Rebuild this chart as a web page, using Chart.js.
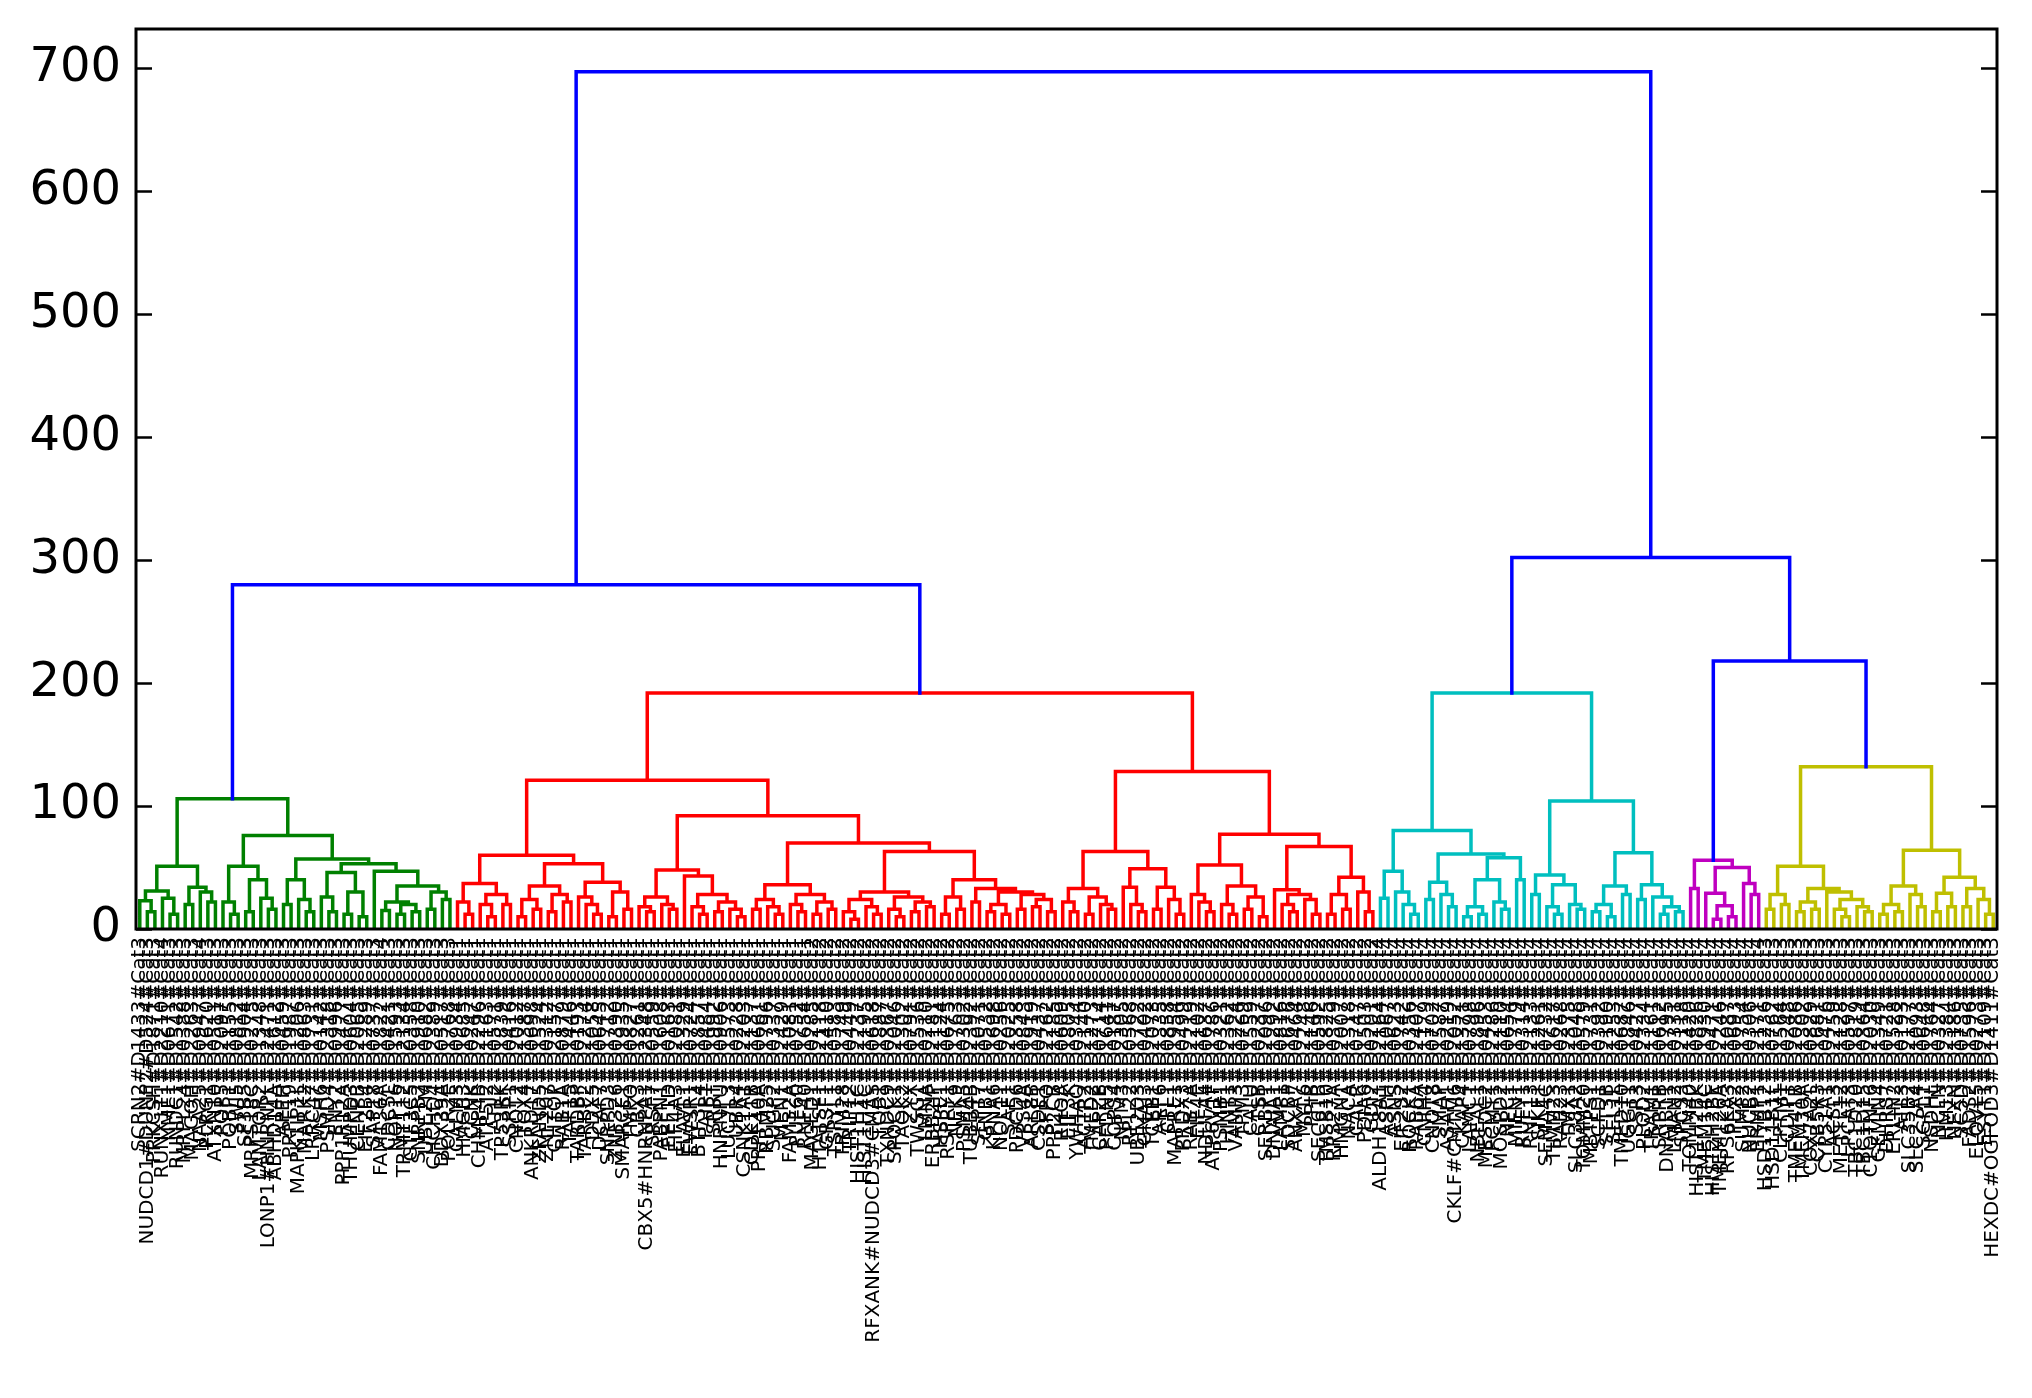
<!DOCTYPE html>
<html lang="en">
<head>
  <meta charset="UTF-8" />
  <title>Dendrogram</title>
  <script src="https://cdn.jsdelivr.net/npm/chart.js"></script>
  <style>
    html, body { margin: 0; padding: 0; background: #fff; }
    #wrap { width: 2032px; height: 1398px; }
  </style>
</head>
<body>
<div id="wrap"><canvas id="dendro" width="2032" height="1398"></canvas></div>
<script>
  // Clusters, written as "(left right height)", a leaf is "."
  const greenTree =
    "((((. (. . 14) 23) (. (. . 12) 25) 31) ((. . 20) (. (. . 22) 30) 34) 51)" +
    " (((. (. . 12) 22) ((. . 14) (. (. . 16) 25) 40) 51)" +
    "  (((. . 20) (. (. . 14) 24) 40)" +
    "   (((. (. . 14) 26) ((. . 12) (. . 10) 30) 46)" +
    "    (. (((. . 15) ((. . 12) (. . 14) 20) 22) ((. . 16) (. . 24) 30) 35) 47) 53) 57) 76) 106)";

  const redTree =
    "(((((. (. . 12) 22) ((. (. . 10) 20) (. . 20) 28) 37)" +
    "   ((((. . 10) (. . 16) 24) ((. . 14) (. . 22) 28) 35) ((. (. (. . 12) 20) 26) ((. . 10) (. . 16) 30) 38) 53) 60)" +
    "  ((((. (. . 14) 18) (. (. . 16) 20) 26) (. ((. (. . 12) 18) ((. . 14) (. (. . 10) 16) 22) 28) 43) 48)" +
    "   ((((. . 16) (. (. . 12) 18) 24) ((. (. . 14) 20) ((. . 12) (. . 16) 22) 28) 36)" +
    "    ((((. (. . 8) 14) (. (. . 12) 18) 24) ((. (. . 10) 16) ((. . 14) (. . 18) 22) 26) 30)" +
    "     (((. . 12) (. . 16) 26) ((. . 22) (((. . 14) (. . 12) 20) ((. . 16) ((. . 18) (. . 14) 24) 28) 30) 33) 40) 63) 70) 92) 121)" +
    " ((((. (. . 14) 22) ((. . 12) (. (. . 16) 20) 26) 33) ((. (. (. . 14) 20) 34) ((. . 16) (. (. . 12) 24) 34) 49) 63)" +
    "  (((. (. (. . 14) 22) 28) ((. (. . 12) 20) ((. . 16) (. . 10) 26) 35) 52)" +
    "   ((. ((. (. . 14) 20) (. (. . 12) 24) 28) 32) (((. . 12) (. . 16) 28) (. (. . 14) 30) 42) 67) 77) 128) 192)";

  const cyanTree =
    "((((. . 25) (. (. (. . 12) 20) 30) 47)" +
    "  (((. . 24) (. (. . 18) 28) 38) ((((. . 10) (. . 12) 18) (. (. . 16) 22) 40) (. . 40) 58) 61) 80)" +
    " (((. . 28) ((. (. . 12) 18) (. (. . 16) 20) 36) 44)" +
    "  ((((. . 14) (. . 10) 20) (. . 28) 35) ((. . 24) (. ((. . 12) (. . 14) 18) 26) 36) 62) 104) 192)";

  const magentaTree = "((. . 33) ((. ((. . 8) (. . 10) 19) 29) (. (. . 28) 37) 50) 56)";

  const yellowTree =
    "((((. . 16) (. . 20) 28) (((. . 14) (. . 16) 22) (. ((. (. . 10) 16) (. (. . 14) 18) 24) 30) 33) 51)" +
    " ((((. . 12) (. . 14) 20) (. (. . 18) 28) 35) (((. . 14) (. . 18) 29) ((. . 18) (. (. . 12) 24) 33) 42) 64) 132)";

  const joinHeights = { greenRed: 280, magentaYellow: 218, cyanRest: 302, root: 697 };

  const fullTree =
    `((${greenTree} ${redTree} ${joinHeights.greenRed})` +
    ` (${cyanTree} (${magentaTree} ${yellowTree} ${joinHeights.magentaYellow}) ${joinHeights.cyanRest}) ${joinHeights.root})`;

  const leafLabels = `
SCRN2#D1433#Cat3 NUDCD1#DUNP2#D524#Cat3 PRKCSH#D1871#Cat3 RUNX1T1#D2210#Cat4 NME1#D0671#Cat3 RUNDC1#D1542#Cat3 MRPL24#D0388#Cat3 MAGOH#D2263#Cat3 NAA25#D0947#Cat4 PLRG1#D1620#Cat3
ATXN10#D0511#Cat3 POP5#D2097#Cat3 PQBP1#D1155#Cat3 SWI5#D0812#Cat3 SF3B5#D1904#Cat3 MRPS18C#D0275#Cat3 LAMTOR2#D1348#Cat3 LONP1#HNRNPL#D2471#Cat3 ABHD14A#D1612#Cat3 APEH#D0459#Cat3
PRPF19#D1987#Cat3 MAPK1IP1L#D1206#Cat3 MARK2#D0863#Cat3 LRRC47#D1731#Cat3 MSH6#D0142#Cat3 PSMD4#D2318#Cat3 ENY2#D0996#Cat3 PPP1R12A#D1477#Cat3 THUMPD3#D0604#Cat3 CENPB#D2065#Cat3
EIF2B4#D1289#Cat3 SAP18#D0737#Cat3 FAM136A#D1822#Cat4 CDC5L#D0421#Cat3 NOP16#D1593#Cat3 TRMT112#D2134#Cat3 GTF3C5#D0358#Cat3 SNRPB2#D1910#Cat3 UBE2M#D0682#Cat3
CHCHD4#D2389#Cat3 DDX39A#D0517#Cat3 POLR2E#D1768#Cat3
CALM3#D0934#Cat1 HMGB3#D1685#Cat1 CCNK#D0247#Cat1 CHMP4B#D2296#Cat1 ATP5J2#D1163#Cat1 ATL2#D0571#Cat1 TP53RK#D1839#Cat1 SSRP1#D0416#Cat1 CNOT2#D2012#Cat1 TOX4#D1387#Cat1
ANKRD17#D0698#Cat1 ZFAND5#D1524#Cat1 ZNF207#D0312#Cat1 CHTOP#D2157#Cat1 RAB1A#D0879#Cat1 TAF15#D1446#Cat1 TARDBP#D0193#Cat1 TARBP2#D2274#Cat1 DDX5#D1058#Cat1 DCAF7#D0645#Cat1
SNRPD3#D1712#Cat1 ZNF326#D0390#Cat1 SMARCE1#D1935#Cat1 TMPO#D0827#Cat1 CBX3#D1261#Cat1 CBX5#HNRNPA1#D2348#Cat1 SRSF7#D0559#Cat1 PABPN1#D1608#Cat1 EEF1D#D0163#Cat1 EIF4A3#D2081#Cat1
ELAVL1#D1329#Cat1 EWSR1#D0724#Cat1 BTF3L4#D1857#Cat1 PAIP1#D0484#Cat1 SRRT#D1992#Cat1 HNRNPU#D0906#Cat1 LUC7L3#D1573#Cat1 UBR4#D0228#Cat1 CSNK1A1#D2203#Cat1 CDK11B#D1137#Cat1
PRPF40A#D0661#Cat1 RBM25#D1796#Cat1 SUGP2#D0337#Cat1 MEN1#D2429#Cat1 FAM32A#D1081#Cat1 PUF60#D0752#Cat1 RNF40#D1654#Cat1 MAGED1#D0285#Cat2 HTATSF1#D2118#Cat2 GRSF1#D1410#Cat2
TSPYL1#D0583#Cat2 TRIM28#D1749#Cat2 TRIP12#D0449#Cat2 HIST1H1C#D2237#Cat2 HIST1H4C#D1195#Cat2 RFXANK#NUDCD3#CMAS#D0618#Cat2 TOB1#D1887#Cat2 TXNDC9#D0367#Cat2 SPOCK1#D2046#Cat2 TAOK2#D1302#Cat2
ZYX#D0791#Cat2 TWSG1#D1536#Cat2 LMNA#D0210#Cat2 ERBB2IP#D2181#Cat2 HSPE1#D1124#Cat2 RSPRY1#D0675#Cat2 NEK9#D1763#Cat2 PSMA5#D0302#Cat2 TUBB4B#D2392#Cat2 SEPT7#D1071#Cat2
GNB1#D0532#Cat2 KPNA6#D1698#Cat2 NOL11#D0256#Cat2 SAE1#D2025#Cat2 PDCD6#D1358#Cat2 VPS4A#D0843#Cat2 ARL8B#D1919#Cat2 CSDE1#D0437#Cat2 SFPQ#D2262#Cat2 PPP2CB#D1185#Cat2
RHOA#D0609#Cat2 EIF3K#D1805#Cat2 YWHAQ#D0344#Cat2 ACTR2#D2140#Cat2 TMED2#D1273#Cat2 CAPZB#D0714#Cat2 PFDN5#D1641#Cat2 COPS4#D0187#Cat2 NPM3#D2305#Cat2
RPL22#D0568#Cat2 UBE2D3#D1722#Cat2 GNAI3#D0402#Cat2 TCEB1#D2073#Cat2 ARF6#D1335#Cat2 CFL1#D0858#Cat2 MAPRE1#D1954#Cat2 PRDX3#D0499#Cat2 RAB7A#D2219#Cat2 EIF4E#D1102#Cat2
NDUFA4#D0637#Cat2 ATP6V1F#D1786#Cat2 PSMB1#D0321#Cat2 HINT1#D2362#Cat2 VAMP3#D1224#Cat2 TPM3#D0769#Cat2 CALU#D1559#Cat2 CTSB#D0237#Cat2 SERBP1#D2096#Cat2 DNAJA1#D1292#Cat2
LAMP1#D0816#Cat2 SDCBP#D1676#Cat2 ANXA7#D0464#Cat2 MYL6#D2248#Cat2 PPIB#D1146#Cat2 SEC61B#D0592#Cat2 TMSB10#D1825#Cat2 RPS27A#D0379#Cat2 HMGN1#D2007#Cat2 NACA#D1318#Cat2
CALR#D0747#Cat2 PDIA6#D1503#Cat2 GDI2#D0201#Cat2
ALDH18A1#D2164#Cat4 ASPH#D1067#Cat4 ASNS#D0623#Cat4 EIF2S2#D1742#Cat4 ROCK1#D0356#Cat4 RAB6A#D2407#Cat4 CNIH4#D1179#Cat4 CNOT8#D0702#Cat4 SMAP#D1587#Cat4 ASAH1#D0219#Cat4
CKLF#CMTM6#D2052#Cat4 CKAP4#D1371#Cat4 LAMC1#D0798#Cat4 NBEAL1#D1896#Cat4 MESDC2#D0453#Cat4 PCMT1#D2286#Cat4 MOSPD2#D1110#Cat4 NPC1#D0654#Cat4 MIEN1#D1779#Cat4 RUFY1#D0314#Cat4
RNF13#D2133#Cat4 SIKE1#D1261#Cat4 SEMA4C#D0732#Cat4 TIMM23#D1617#Cat4 RAB23#D0268#Cat4 TMX1#D2375#Cat4 SLC38A2#D1048#Cat4 TOMM20#D0579#Cat4 MBTPS1#D1731#Cat4 SCFD1#D0392#Cat4
STT3B#D2190#Cat4 SEL1L#D1253#Cat4 TMED10#D0687#Cat4 UGGT1#D1846#Cat4 SSR3#D0427#Cat4 PLOD2#D2334#Cat4 TRAM1#D1161#Cat4 SRPRB#D0612#Cat4 DNAJB11#D1795#Cat4 LMAN2#D0331#Cat4
SPCS3#D2118#Cat4
TOMM40#D1420#Cat4 HIST1H2BK#D0826#Cat4 TMEM14C#D1930#Cat4 HIST2H2BE#D0471#Cat4 TMEM126A#D2246#Cat4 RPS6KA3#D1087#Cat4 PEX2#D0693#Cat4 SUMF2#D1754#Cat4 NUCB2#D0306#Cat4 ERMP1#D2171#Cat4
HSD17B12#D1236#Cat3 HSD11B1L#D0762#Cat3 CLPTM1#D1564#Cat3 CDIPT#D0248#Cat3 TMEM41B#D2086#Cat3 TMEM30A#D1302#Cat3 COX7A2L#D0829#Cat3 CYB5R3#D1681#Cat3 CYP51A1#D0476#Cat3 ACSL3#D2259#Cat3
METTL12#D1128#Cat3 LPCAT3#D0597#Cat3 TBC1D20#D1819#Cat3 TBC1D15#D0364#Cat3 C1QTNF6#D2030#Cat3 GEMIN4#D1349#Cat3 DHRS7#D0721#Cat3 ERLIN2#D1528#Cat3 ATL3#D0193#Cat3 SLC35B2#D2177#Cat3
SLC27A4#D1093#Cat3 SGPL1#D0648#Cat3 NSDHL#D1764#Cat3 NCLN#D0327#Cat3 HM13#D2384#Cat3 NEXN#D1186#Cat3 SC5D#D0735#Cat3 FADS2#D1596#Cat3 ELOVL5#D0273#Cat3 ESYT1#D2109#Cat3
HEXDC#OGFOD3#D1411#Cat3
`.trim().split(/\s+/);

  const yTicks = [0, 100, 200, 300, 400, 500, 600, 700];
  const colorThreshold = 200;
  const clusterColors = ['#008000', '#ff0000', '#00bfbf', '#bf00bf', '#bfbf00'];
  const aboveColor = '#0000ff';

  // parse the nested string, leaves sit at 5, 15, 25 ... like scipy does
  function parseTree(str) {
    const tok = str.replace(/\(/g, ' ( ').replace(/\)/g, ' ) ').trim().split(/\s+/);
    let p = 0, leaf = 0;
    function node() {
      const t = tok[p++];
      if (t === '.') return { x: 10 * leaf++ + 5, h: 0 };
      const a = node(), b = node();
      const h = parseFloat(tok[p++]);
      p++; // closing paren
      return { a, b, h, x: (a.x + b.x) / 2 };
    }
    const root = node();
    return { root, n: leaf };
  }

  const { root, n } = parseTree(fullTree);
  if (n !== leafLabels.length) console.warn('leaf count', n, leafLabels.length);

  // one dataset per colour, links separated by null gaps
  const byColor = {};
  let nextColor = 0;
  function walk(node, color) {
    if (!node.a) return;
    let c = color;
    if (!c && node.h < colorThreshold) c = clusterColors[nextColor++ % clusterColors.length];
    const linkColor = c || aboveColor;
    (byColor[linkColor] = byColor[linkColor] || []).push(
      { x: node.a.x, y: node.a.h }, { x: node.a.x, y: node.h },
      { x: node.b.x, y: node.h }, { x: node.b.x, y: node.b.h },
      { x: node.b.x, y: null }
    );
    walk(node.a, c);
    walk(node.b, c);
  }
  walk(root, null);

  const datasets = Object.keys(byColor).map(col => ({
    data: byColor[col],
    borderColor: col,
    borderWidth: 3.5,
    pointRadius: 0,
    tension: 0,
    spanGaps: false,
    borderCapStyle: 'square'
  }));

  const leafPos = leafLabels.map((_, i) => 10 * i + 5);

  // frame and inward ticks like matplotlib
  const framePlugin = {
    id: 'frame',
    afterDatasetsDraw(chart) {
      const { ctx, chartArea: a, scales } = chart;
      ctx.save();
      ctx.strokeStyle = '#000';
      ctx.lineWidth = 2.5;
      yTicks.forEach(v => {
        const y = Math.round(scales.y.getPixelForValue(v)) + 0.5;
        ctx.beginPath();
        ctx.moveTo(a.left, y); ctx.lineTo(a.left + 16, y);
        ctx.moveTo(a.right, y); ctx.lineTo(a.right - 16, y);
        ctx.stroke();
      });
      ctx.lineWidth = 3;
      ctx.strokeRect(a.left, a.top, a.right - a.left, a.bottom - a.top);
      ctx.restore();
    }
  };

  new Chart(document.getElementById('dendro'), {
    type: 'line',
    data: { datasets },
    options: {
      responsive: false,
      animation: false,
      devicePixelRatio: 1,
      layout: { padding: { top: 29, right: 35, left: 0, bottom: 0 } },
      plugins: { legend: { display: false }, tooltip: { enabled: false } },
      scales: {
        x: {
          type: 'linear',
          min: 0,
          max: n * 10,
          afterBuildTicks: s => { s.ticks = leafPos.map(v => ({ value: v })); },
          afterFit: s => {
            s.height = 469;
            s.paddingLeft = 0; s.paddingRight = 0;
          },
          grid: { display: false, drawTicks: false },
          border: { display: false },
          ticks: {
            autoSkip: false,
            minRotation: 90,
            maxRotation: 90,
            padding: 8,
            color: '#000',
            font: { family: 'DejaVu Sans', size: 20 },
            callback: (v, i) => leafLabels[i]
          }
        },
        y: {
          type: 'linear',
          min: 0,
          max: joinHeights.root * 1.05,
          afterBuildTicks: s => { s.ticks = yTicks.map(v => ({ value: v })); },
          afterFit: s => {
            s.width = 136;
            s.paddingTop = 0; s.paddingBottom = 0;
          },
          grid: { display: false, drawTicks: false },
          border: { display: false },
          ticks: {
            padding: 15,
            color: '#000',
            font: { family: 'DejaVu Sans', size: 48 }
          }
        }
      }
    },
    plugins: [framePlugin]
  });
</script>
</body>
</html>
